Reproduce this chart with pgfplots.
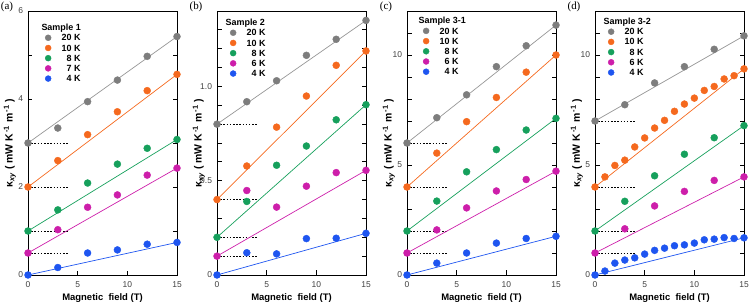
\documentclass[border=0pt]{standalone}
\usepackage{fontspec}
\setmainfont{Liberation Sans}
\newfontfamily\seriffont{Liberation Serif}
\usepackage{pgfplots}
\pgfplotsset{compat=1.18}
\definecolor{cgray}{RGB}{125,125,125}
\definecolor{lgray}{RGB}{150,150,150}
\definecolor{corange}{RGB}{245,105,30}
\definecolor{cgreen}{RGB}{22,160,92}
\definecolor{cmag}{RGB}{205,30,170}
\definecolor{cblue}{RGB}{30,85,240}
\pgfplotsset{
  panel/.style={
    scale only axis, width=149bp, height=264bp,
    xmin=0, xmax=15, xtick={0,5,10,15}, xtick pos=left,
    ytick pos=both, yticklabel pos=left,
    tick align=inside,
    major tick length=4.5bp, minor tick length=4.5bp,
    axis line style={line width=0.8pt},
    every tick/.style={black, line width=0.8pt},
    ticklabel style={font=\fontsize{8.5}{9}\selectfont, text=black!75},
    xticklabel style={yshift=-3bp},
    yticklabel style={xshift=-1.5bp},
    /pgf/number format/assume math mode=true,
    xlabel={\bfseries Magnetic\ \ field (T)},
    xlabel style={font=\fontsize{9.5}{10}\selectfont, at={(axis description cs:0.5,0)}, anchor=center, yshift=-23bp},
    ylabel={\bfseries κ\textsubscript{\itshape xy} ( mW K\textsuperscript{\,-1} m\textsuperscript{\,-1} )},
    ylabel style={font=\fontsize{10.5}{11}\selectfont, at={(axis description cs:-0.122,0.5)}, anchor=center},
    clip=false,
    legend cell align=right,
    legend image code/.code={\draw[##1, mark size=3pt] plot coordinates {(0bp,0bp)};},
    legend style={draw=none, fill=none, inner sep=0pt, column sep=10bp, row sep=3bp,
      font=\fontsize{9}{10}\selectfont\bfseries,
      nodes={inner sep=0.5bp, text height=6.2bp, text depth=0bp}},
  },
  mk/.style={only marks, mark=*, mark size=3.5pt, color=#1},
  fit/.style={color=#1, line width=0.7pt, forget plot, no marks},
  dsh/.style={black, dash pattern=on 1.6pt off 1.6pt, line width=0.8pt, forget plot, no marks},
}
\newcommand{\plab}[1]{\node[font=\seriffont\fontsize{11}{12}\selectfont] at (axis description cs:-0.141,1.015) {#1};}
\newcommand{\stitle}[3]{\node[anchor=west, font=\fontsize{9}{10}\selectfont\bfseries] at (axis description cs:#1,#2) {#3};}
\begin{document}
\begin{tikzpicture}
\path[use as bounding box] (0,0) rectangle (752bp,302bp);
% ---------------- (a)
\begin{axis}[panel, at={(28bp,27bp)}, anchor=south west,
  ymin=0, ymax=6, ytick={0,2,4,6}, minor ytick={1,3,5},
  legend style={at={(axis description cs:0.114,0.913)}, anchor=north west}]
\addplot[dsh] coordinates {(0,3) (4,3)};
\addplot[dsh] coordinates {(0,2) (4,2)};
\addplot[dsh] coordinates {(0,1) (4,1)};
\addplot[dsh] coordinates {(0,0.5) (4,0.5)};
\addplot[fit=lgray] coordinates {(0,3) (15,5.42)};
\addplot[fit=corange] coordinates {(0,2) (15,4.56)};
\addplot[fit=cgreen] coordinates {(0,1) (15,3.08)};
\addplot[fit=cmag] coordinates {(0,0.5) (15,2.43)};
\addplot[fit=cblue] coordinates {(0,0) (15,0.74)};
\addplot[mk=cgray] coordinates {(0,3.00) (3,3.34) (6,3.94) (9,4.43) (12,4.97) (15,5.42)};
\addlegendentry{20 K}
\addplot[mk=corange] coordinates {(0,2.00) (3,2.60) (6,3.19) (9,3.71) (12,4.19) (15,4.56)};
\addlegendentry{10 K}
\addplot[mk=cgreen] coordinates {(0,1.00) (3,1.48) (6,2.09) (9,2.52) (12,2.88) (15,3.08)};
\addlegendentry{8 K}
\addplot[mk=cmag] coordinates {(0,0.50) (3,1.03) (6,1.54) (9,1.82) (12,2.27) (15,2.43)};
\addlegendentry{7 K}
\addplot[mk=cblue] coordinates {(0,0) (3,0.17) (6,0.50) (9,0.57) (12,0.70) (15,0.74)};
\addlegendentry{4 K}
\stitle{0.067}{0.936}{Sample 1}
\plab{(a)}
\end{axis}
% ---------------- (b)
\begin{axis}[panel, at={(217bp,27bp)}, anchor=south west,
  ymin=0, ymax=1.4, ytick={0,0.5,1}, yticklabels={0,0.5,1.0}, minor ytick={0.1,0.2,0.3,0.4,0.6,0.7,0.8,0.9,1.1,1.2,1.3},
  legend style={at={(axis description cs:0.087,0.932)}, anchor=north west}]
\addplot[dsh] coordinates {(0,0.8) (4,0.8)};
\addplot[dsh] coordinates {(0,0.4) (4,0.4)};
\addplot[dsh] coordinates {(0,0.2) (4,0.2)};
\addplot[dsh] coordinates {(0,0.1) (4,0.1)};
\addplot[fit=lgray] coordinates {(0,0.8) (15,1.35)};
\addplot[fit=corange] coordinates {(0,0.4) (15,1.188)};
\addplot[fit=cgreen] coordinates {(0,0.2) (15,0.903)};
\addplot[fit=cmag] coordinates {(0,0.1) (15,0.555)};
\addplot[fit=cblue] coordinates {(0,0) (15,0.221)};
\addplot[mk=cgray] coordinates {(0,0.80) (3,0.919) (6,1.03) (9,1.165) (12,1.25) (15,1.35)};
\addlegendentry{20 K}
\addplot[mk=corange] coordinates {(0,0.40) (3,0.578) (6,0.784) (9,0.949) (12,1.112) (15,1.188)};
\addlegendentry{10 K}
\addplot[mk=cgreen] coordinates {(0,0.20) (3,0.39) (6,0.582) (9,0.684) (12,0.823) (15,0.903)};
\addlegendentry{8 K}
\addplot[mk=cmag] coordinates {(0,0.10) (3,0.448) (6,0.36) (9,0.471) (12,0.543) (15,0.555)};
\addlegendentry{6 K}
\addplot[mk=cblue] coordinates {(0,0) (3,0.118) (6,0.112) (9,0.193) (12,0.195) (15,0.221)};
\addlegendentry{4 K}
\stitle{0.034}{0.955}{Sample 2}
\plab{(b)}
\end{axis}
% ---------------- (c)
\begin{axis}[panel, at={(407bp,27bp)}, anchor=south west,
  ymin=0, ymax=12, ytick={0,5,10}, minor ytick={1,2,3,4,6,7,8,9,11},
  legend style={at={(axis description cs:0.107,0.939)}, anchor=north west}]
\addplot[dsh] coordinates {(0,6) (4,6)};
\addplot[dsh] coordinates {(0,4) (4,4)};
\addplot[dsh] coordinates {(0,2) (4,2)};
\addplot[dsh] coordinates {(0,1) (4,1)};
\addplot[fit=lgray] coordinates {(0,6) (15,11.36)};
\addplot[fit=corange] coordinates {(0,4) (15,10.0)};
\addplot[fit=cgreen] coordinates {(0,2) (15,7.12)};
\addplot[fit=cmag] coordinates {(0,1) (15,4.72)};
\addplot[fit=cblue] coordinates {(0,0) (15,1.76)};
\addplot[mk=cgray] coordinates {(0,6) (3,7.15) (6,8.19) (9,9.47) (12,10.42) (15,11.36)};
\addlegendentry{20 K}
\addplot[mk=corange] coordinates {(0,4) (3,5.54) (6,6.97) (9,8.07) (12,9.22) (15,10.0)};
\addlegendentry{10 K}
\addplot[mk=cgreen] coordinates {(0,2) (3,3.36) (6,4.69) (9,5.70) (12,6.59) (15,7.12)};
\addlegendentry{8 K}
\addplot[mk=cmag] coordinates {(0,1) (3,2.05) (6,3.05) (9,3.82) (12,4.34) (15,4.72)};
\addlegendentry{6 K}
\addplot[mk=cblue] coordinates {(0,0) (3,0.54) (6,1.0) (9,1.45) (12,1.66) (15,1.76)};
\addlegendentry{4 K}
\stitle{0.054}{0.962}{Sample 3-1}
\plab{(c)}
\end{axis}
% ---------------- (d)
\begin{axis}[panel, at={(595bp,27bp)}, anchor=south west,
  ymin=0, ymax=12, ytick={0,5,10}, minor ytick={1,2,3,4,6,7,8,9,11},
  legend style={at={(axis description cs:0.087,0.936)}, anchor=north west}]
\addplot[dsh] coordinates {(0,7) (4,7)};
\addplot[dsh] coordinates {(0,4) (4,4)};
\addplot[dsh] coordinates {(0,2) (4,2)};
\addplot[dsh] coordinates {(0,1) (4,1)};
\addplot[fit=lgray] coordinates {(0,7) (15,10.87)};
\addplot[fit=corange] coordinates {(0,4) (15,9.37)};
\addplot[fit=cgreen] coordinates {(0,2) (15,6.79)};
\addplot[fit=cmag] coordinates {(0,1) (15,4.46)};
\addplot[fit=cblue] coordinates {(0,0) (15,1.69)};
\addplot[mk=cgray] coordinates {(0,7) (3,7.74) (6,8.73) (9,9.47) (12,10.26) (15,10.87)};
\addlegendentry{20 K}
\addplot[mk=corange] coordinates {(0,4.0) (1,4.46) (2,4.98) (3,5.22) (4,5.82) (5,6.23) (6,6.68) (7,7.03) (8,7.44) (9,7.77) (10,8.04) (11,8.39) (12,8.57) (13,8.91) (14,9.06) (15,9.37)};
\addlegendentry{10 K}
\addplot[mk=cgreen] coordinates {(0,2) (3,3.35) (6,4.51) (9,5.49) (12,6.24) (15,6.79)};
\addlegendentry{8 K}
\addplot[mk=cmag] coordinates {(0,1) (3,2.10) (6,3.14) (9,3.80) (12,4.30) (15,4.46)};
\addlegendentry{6 K}
\addplot[mk=cblue] coordinates {(0,0) (1,0.18) (2,0.54) (3,0.68) (4,0.78) (5,0.95) (6,1.12) (7,1.22) (8,1.33) (9,1.37) (10,1.45) (11,1.60) (12,1.63) (13,1.70) (14,1.66) (15,1.69)};
\addlegendentry{4 K}
\stitle{0.034}{0.958}{Sample 3-2}
\plab{(d)}
\end{axis}
\end{tikzpicture}
\end{document}
